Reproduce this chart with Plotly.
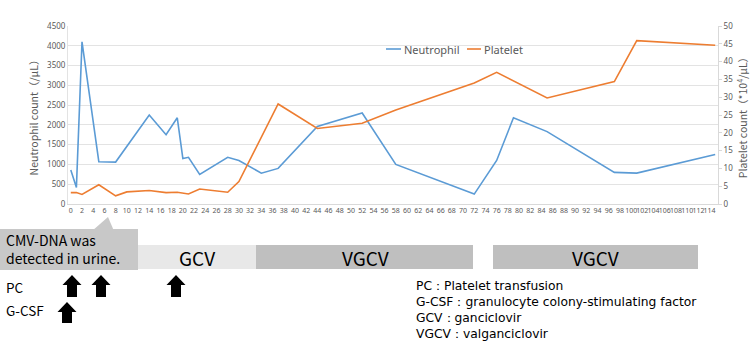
import plotly.graph_objects as go

# ---- data ----
neut_days = [0, 1, 2, 5, 8, 14, 17, 19, 20, 21, 23, 28, 30, 34, 37, 44, 52, 58, 72, 76, 79, 85, 97, 101, 115]
neut_vals = [860, 420, 4100, 1070, 1060, 2250, 1750, 2180, 1150, 1180, 750, 1180, 1100, 780, 900, 1960, 2300,
             1000, 250, 1100, 2180, 1830, 800, 780, 1250]
plt_days = [0, 1, 2, 5, 8, 10, 14, 17, 19, 21, 23, 28, 30, 37, 44, 52, 58, 72, 76, 85, 97, 101, 115]
plt_vals = [3.2, 3.2, 2.7, 5.4, 2.3, 3.4, 3.8, 3.2, 3.3, 2.8, 4.2, 3.3, 6.3, 28.1, 21.2, 22.7, 26.4, 34.0,
            37.0, 29.8, 34.4, 45.9, 44.6]
tick_days = list(range(0, 115, 2))
tick_labels = [str(d) for d in tick_days]
series_names = ["Neutrophil", "Platelet"]
series_colors = ["#5B9BD5", "#ED7D31"]

# ---- layout geometry (pixels) ----
W, H = 750, 349
L, R, T, B = 68, 718, 26, 204


def px(x):
    return (x - L) / (R - L)


def py(y):
    return (B - y) / (B - T)


GREY = "#595959"
fig = go.Figure()
fig.add_trace(go.Scatter(x=neut_days, y=neut_vals, name=series_names[0], mode="lines",
                         line=dict(color=series_colors[0], width=1.6), yaxis="y"))
fig.add_trace(go.Scatter(x=plt_days, y=plt_vals, name=series_names[1], mode="lines",
                         line=dict(color=series_colors[1], width=1.6), yaxis="y2"))

shapes = []
annotations = []


def rect(x0, y0, x1, y1, color):
    shapes.append(dict(type="rect", xref="paper", yref="paper", x0=px(x0), x1=px(x1),
                       y0=py(y1), y1=py(y0), fillcolor=color, line=dict(width=0), layer="above"))


def text(x, y, s, size, anchor="left", color="black", family="Noto Sans CJK JP", align="left"):
    annotations.append(dict(xref="paper", yref="paper", x=px(x), y=py(y), text=s, showarrow=False,
                            xanchor=anchor, yanchor="middle", align=align, borderpad=0,
                            font=dict(size=size, color=color, family=family)))


def up_arrow(cx, top, bottom):
    hw, sw, hh = 9.5, 5, 10
    pts = [(cx, top), (cx + hw, top + hh), (cx + sw, top + hh), (cx + sw, bottom),
           (cx - sw, bottom), (cx - sw, top + hh), (cx - hw, top + hh)]
    path = "M " + " L ".join(f"{px(a):.5f},{py(b):.5f}" for a, b in pts) + " Z"
    shapes.append(dict(type="path", xref="paper", yref="paper", path=path, fillcolor="black",
                       line=dict(width=0), layer="above"))


# manual legend
leg = [(386, 401, 403), (467, 481, 483)]
for (x0, x1, tx), name, col in zip(leg, series_names, series_colors):
    shapes.append(dict(type="line", xref="paper", yref="paper", x0=px(x0), x1=px(x1), y0=py(49), y1=py(49),
                       line=dict(color=col, width=1.6)))
    text(tx, 49, name, 11, color=GREY, family="Noto Sans")

# callout pointer
pts = [(92, 231), (108, 217), (114, 231)]
shapes.append(dict(type="path", xref="paper", yref="paper",
                   path="M " + " L ".join(f"{px(a):.5f},{py(b):.5f}" for a, b in pts) + " Z",
                   fillcolor="#c8c8c8", line=dict(width=0), layer="above"))
rect(0, 229, 138, 270, "#c8c8c8")
rect(138, 245, 256, 269, "#e8e8e8")
rect(256, 245, 473, 269, "#bfbfbf")
rect(493, 245, 698, 269, "#bfbfbf")
text(5, 249, "CMV-DNA was<br>detected in urine.", 14)
text(197, 257, "GCV", 19, "center")
text(365, 257, "VGCV", 19, "center")
text(595, 257, "VGCV", 19, "center")
text(5, 287, "PC", 13.5)
text(5, 310, "G-CSF", 13.5)
up_arrow(72, 275, 297)
up_arrow(101, 275, 297)
up_arrow(176, 275, 297)
up_arrow(67, 302, 323)
text(415, 310, "PC：Platelet transfusion<br>G-CSF：granulocyte colony-stimulating factor<br>"
               "GCV：ganciclovir<br>VGCV：valganciclovir", 12.3, family="DejaVu Sans")

fig.update_layout(
    width=W, height=H,
    margin=dict(l=L, r=W - R, t=T, b=H - B),
    paper_bgcolor="white", plot_bgcolor="white",
    font=dict(family="Noto Sans", color=GREY),
    showlegend=False,
    xaxis=dict(range=[-0.5, 115.5], tickmode="array", tickvals=tick_days, ticktext=tick_labels,
               tickangle=0, tickfont=dict(size=7, color=GREY), showgrid=False, zeroline=False,
               showline=True, linecolor="#d9d9d9", linewidth=1, ticks="", automargin=False),
    yaxis=dict(range=[0, 4500], dtick=500, tickfont=dict(size=8, color=GREY), showgrid=True,
               gridcolor="#e3e3e3", zeroline=False, showline=True, linecolor="#e3e3e3", automargin=False,
               title=dict(text="Neutrophil count（/μL）", font=dict(size=10.5, color=GREY,
                          family="Noto Sans CJK JP"), standoff=6)),
    yaxis2=dict(range=[0, 50], dtick=5, overlaying="y", side="right", showgrid=False, zeroline=False,
                tickfont=dict(size=8, color=GREY), showline=True, linecolor="#d9d9d9", automargin=False,
                ticks="outside", ticklen=3, tickcolor="#d9d9d9",
                title=dict(text="Platelet count（*10<sup>4</sup>/μL）", font=dict(size=10.5, color=GREY,
                           family="Noto Sans CJK JP"), standoff=11)),
    shapes=shapes, annotations=annotations,
)
fig.write_html("out.html")
